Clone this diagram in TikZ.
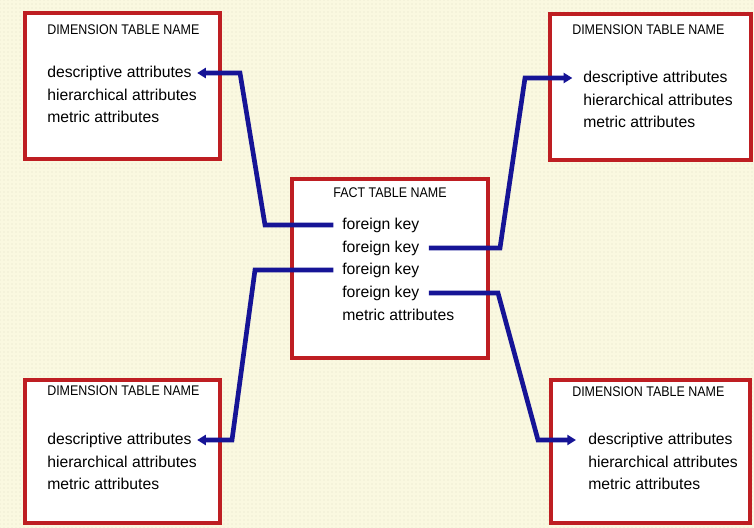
\documentclass[tikz,border=0pt]{standalone}
\usepackage{fontspec}
\setmainfont{Liberation Sans}
\newfontfamily\titlefont[FakeStretch=0.89]{Liberation Sans}
\usetikzlibrary{arrows.meta,patterns}
\definecolor{paper}{RGB}{250,248,224}
\definecolor{paperdot}{RGB}{226,224,200}
\definecolor{frame}{RGB}{190,30,34}
\definecolor{link}{RGB}{22,20,150}
\begin{document}
\begin{tikzpicture}[x=0.75pt,y=-0.75pt,
  tablebox/.style={draw=frame, line width=3pt, fill=white, inner sep=0pt, outer sep=0pt},
  tabletitle/.style={anchor=west, inner sep=0pt, font=\titlefont\fontsize{10.5}{12}\selectfont},
  attr/.style={anchor=west, inner sep=0pt, font=\fontsize{11.8}{14}\selectfont},
  link/.style={draw=link, line width=3.5pt, line join=miter},
  linkarrow/.style={link, -{Triangle[length=6.5pt,width=7.5pt]}}
]
% background sheet
\fill[paper] (0,0) rectangle (754,528);
\fill[pattern=dots, pattern color=paperdot] (0,0) rectangle (754,528);
\useasboundingbox (0,0) rectangle (754,528);

% table frames
\node[tablebox, minimum width=146.25pt, minimum height=109.5pt] (tl) at (122.5,86) {};
\node[tablebox, minimum width=150.75pt, minimum height=109.5pt] (tr) at (650.5,87) {};
\node[tablebox, minimum width=147pt, minimum height=134.25pt] (fact) at (390,268.5) {};
\node[tablebox, minimum width=146.25pt, minimum height=107.25pt] (bl) at (122.5,451.5) {};
\node[tablebox, minimum width=149.25pt, minimum height=107.25pt] (br) at (650.5,451.5) {};

% top-left dimension table
\node[tabletitle] (tl-title) at (47,30) {DIMENSION TABLE NAME};
\node[attr] (tl-desc) at (47,73) {descriptive attributes};
\node[attr] (tl-hier) at (47,95) {hierarchical attributes};
\node[attr] (tl-metr) at (47,117) {metric attributes};

% top-right dimension table
\node[tabletitle] (tr-title) at (572,30) {DIMENSION TABLE NAME};
\node[attr] (tr-desc) at (583,78) {descriptive attributes};
\node[attr] (tr-hier) at (583,100) {hierarchical attributes};
\node[attr] (tr-metr) at (583,122) {metric attributes};

% fact table
\node[tabletitle, anchor=center] (fact-title) at (390,193) {FACT TABLE NAME};
\node[attr] (fk1) at (342,225) {foreign key};
\node[attr] (fk2) at (342,248) {foreign key};
\node[attr] (fk3) at (342,270) {foreign key};
\node[attr] (fk4) at (342,293) {foreign key};
\node[attr] (fact-metr) at (342,315) {metric attributes};

% bottom-left dimension table
\node[tabletitle] (bl-title) at (47,391) {DIMENSION TABLE NAME};
\node[attr] (bl-desc) at (47,440) {descriptive attributes};
\node[attr] (bl-hier) at (47,462) {hierarchical attributes};
\node[attr] (bl-metr) at (47,484) {metric attributes};

% bottom-right dimension table
\node[tabletitle] (br-title) at (572,392) {DIMENSION TABLE NAME};
\node[attr] (br-desc) at (588,440) {descriptive attributes};
\node[attr] (br-hier) at (588,462) {hierarchical attributes};
\node[attr] (br-metr) at (588,484) {metric attributes};

% bends of the key links
\coordinate (b1a) at (265,225);
\coordinate (b1b) at (240,73);
\coordinate (b2a) at (500,248);
\coordinate (b2b) at (525,78);
\coordinate (b3a) at (255,270);
\coordinate (b3b) at (232,440);
\coordinate (b4a) at (498,293);
\coordinate (b4b) at (538,440);

% key links from the fact table to the dimension tables
\draw[linkarrow] ([xshift=-6.5pt]fk1.west) -- (b1a) -- (b1b) -- ([xshift=4pt]tl-desc.east);
\draw[linkarrow] ([xshift=7pt]fk2.east) -- (b2a) -- (b2b) -- ([xshift=-8pt]tr-desc.west);
\draw[linkarrow] ([xshift=-6.5pt]fk3.west) -- (b3a) -- (b3b) -- ([xshift=4pt]bl-desc.east);
\draw[linkarrow] ([xshift=7pt]fk4.east) -- (b4a) -- (b4b) -- ([xshift=-9pt]br-desc.west);
\end{tikzpicture}
\end{document}
